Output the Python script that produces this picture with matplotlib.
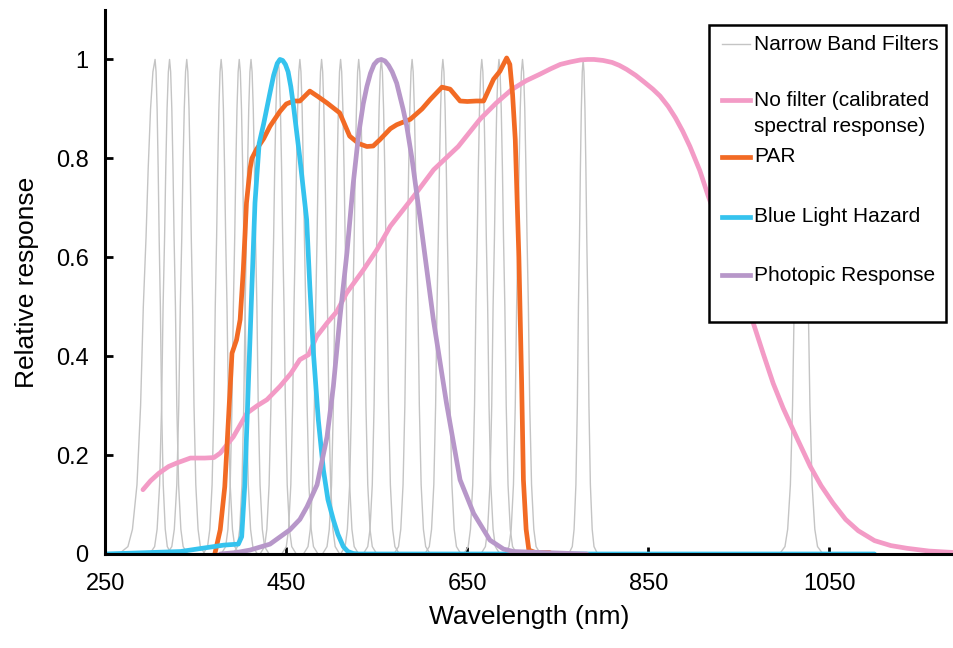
import matplotlib
matplotlib.use('Agg')
import matplotlib.pyplot as plt
from matplotlib.patches import Rectangle
from matplotlib.lines import Line2D

plt.rcParams['font.family'] = ['Liberation Sans', 'DejaVu Sans']

# narrow band filters: centre wavelength and left/right width factor
filter_centres = [305, 321, 340, 378, 398, 411, 441, 465, 489, 510, 530, 555,
                  589, 623, 666, 685, 711, 778, 1019]
filter_left = [2.0, 1.1, 1.1, 1, 1, 1, 1, 1, 1, 1, 1, 1, 1, 1, 1, 1, 1, 0.8, 1.2]
filter_right = [0.9, 1.0, 1.0, 1, 1, 1, 1, 1, 1, 1, 1, 1, 1, 1, 1, 1, 1, 0.8, 1.2]
# shape of one filter (offset from centre in nm, relative response)
profile_offset = [-20, -15, -12.5, -10, -8, -6.5, -5, -3.8, -2.5, -1.2, 0,
                  1.2, 2.5, 3.8, 5, 6.5, 8, 10, 12.5, 15, 20]
profile_value = [0, 0.015, 0.05, 0.14, 0.3, 0.5, 0.64, 0.78, 0.9, 0.975, 1,
                 0.975, 0.9, 0.78, 0.64, 0.5, 0.3, 0.14, 0.05, 0.015, 0]
filter_base_nm = [250, 1150]

nofilter_nm = [291.6, 300, 309, 320, 329, 344, 360, 370, 377, 391.5, 406.6, 418, 428.6, 443,
               455, 465, 474.6, 483.6, 495, 505.7, 516.7, 535.4, 550, 565, 590.7, 612.8, 640,
               664, 682, 699, 715, 730, 742, 752.8, 764, 775, 783, 790, 800, 810, 818, 826,
               836, 845, 855, 863, 872, 880, 888, 896, 907, 916, 928, 940, 953, 966, 977, 988,
               999, 1010, 1020, 1029, 1041, 1054, 1068, 1082, 1100, 1118, 1136, 1160, 1188]
nofilter_val = [0.13, 0.148, 0.163, 0.177, 0.184, 0.194, 0.194, 0.195, 0.204, 0.237, 0.285,
                0.3, 0.312, 0.339, 0.365, 0.393, 0.403, 0.44, 0.467, 0.49, 0.528, 0.575, 0.615,
                0.663, 0.723, 0.777, 0.824, 0.879, 0.912, 0.939, 0.957, 0.97, 0.981, 0.99, 0.995,
                0.999, 1.0, 1.0, 0.998, 0.994, 0.988, 0.98, 0.968, 0.955, 0.94, 0.926, 0.905,
                0.882, 0.855, 0.824, 0.775, 0.725, 0.665, 0.6, 0.532, 0.467, 0.405, 0.345,
                0.295, 0.251, 0.212, 0.177, 0.138, 0.103, 0.07, 0.047, 0.027, 0.017, 0.0115,
                0.006, 0.003]

par_nm = [371, 377, 382, 386, 390, 395, 399, 402.5, 406, 410, 412, 417, 425, 432, 443, 450,
          458, 465, 470, 476, 485, 495, 509, 520, 530, 539, 546, 553.5, 565, 572, 587, 600,
          609, 622, 631, 642, 650, 660, 668, 679, 686, 693.5, 697, 700, 703, 707, 710, 712,
          715, 718, 725, 741]
par_val = [0.0, 0.049, 0.136, 0.27, 0.406, 0.433, 0.474, 0.575, 0.71, 0.78, 0.8, 0.818, 0.84,
           0.865, 0.895, 0.91, 0.916, 0.916, 0.925, 0.936, 0.925, 0.912, 0.892, 0.845, 0.83,
           0.824, 0.825, 0.838, 0.86, 0.868, 0.879, 0.9, 0.919, 0.944, 0.94, 0.916, 0.915,
           0.916, 0.916, 0.96, 0.976, 1.003, 0.99, 0.93, 0.838, 0.6, 0.35, 0.15, 0.05, 0.008,
           0.003, 0.003]

blue_nm = [250, 333, 355, 381, 397, 400.7, 404, 408, 412, 415.4, 420, 425, 432, 436, 440, 443,
           446, 449, 452, 455, 458, 465, 472.5, 476, 480, 485.4, 491, 496, 502, 507, 513, 518,
           524, 530, 1100]
blue_val = [0, 0.005, 0.011, 0.018, 0.02, 0.035, 0.136, 0.339, 0.541, 0.71, 0.83, 0.87, 0.933,
            0.968, 0.992, 1.0, 0.998, 0.99, 0.975, 0.945, 0.905, 0.8, 0.676, 0.541, 0.406,
            0.271, 0.17, 0.11, 0.069, 0.04, 0.015, 0.005, 0.001, 0, 0]

photopic_nm = [377, 395, 410, 432, 454, 465, 473, 484, 495, 502, 509, 517, 524, 530, 535, 539,
               543, 547, 551, 555, 559, 563, 567, 572, 579, 583, 589, 598, 612.5, 627, 642,
               657, 675, 690, 701, 782]
photopic_val = [0, 0.003, 0.008, 0.02, 0.049, 0.07, 0.096, 0.14, 0.237, 0.339, 0.474, 0.609,
                0.75, 0.85, 0.91, 0.945, 0.972, 0.99, 0.998, 1.0, 0.997, 0.988, 0.975, 0.952,
                0.9, 0.866, 0.798, 0.676, 0.474, 0.305, 0.15, 0.082, 0.028, 0.01, 0.005, 0]

x_ticks = [250, 450, 650, 850, 1050]
y_ticks = [0, 0.2, 0.4, 0.6, 0.8, 1.0]
y_tick_labels = ['0', '0.2', '0.4', '0.6', '0.8', '1']

labels = ['Narrow Band Filters', 'No filter (calibrated', 'spectral response)', 'PAR',
          'Blue Light Hazard', 'Photopic Response']
colours = {'gray': '#c4c4c4', 'pink': '#f39bc6', 'orange': '#f26a24',
           'blue': '#35c3ee', 'purple': '#b797c9'}

W, H = 954, 648
fig = plt.figure(figsize=(W / 100, H / 100), dpi=100)
ax = fig.add_axes([105.3 / W, 1 - 554 / H, (W - 105.3) / W, (554 - 10) / H])

# narrow band filters
ax.plot(filter_base_nm, [0, 0], color=colours['gray'], lw=1.0)
for c, l, r in zip(filter_centres, filter_left, filter_right):
    xs = [c + o * (l if o < 0 else r) for o in profile_offset]
    ax.plot(xs, profile_value, color=colours['gray'], lw=1.0)

ax.plot(nofilter_nm, nofilter_val, color=colours['pink'], lw=3.4, solid_capstyle='round')
ax.plot(par_nm, par_val, color=colours['orange'], lw=3.4, solid_capstyle='round')
ax.plot(blue_nm, blue_val, color=colours['blue'], lw=3.4, solid_capstyle='round')
ax.plot(photopic_nm, photopic_val, color=colours['purple'], lw=3.4, solid_capstyle='round')

ax.set_xlim(250, 250 + (W - 105.3) / 0.905)
ax.set_ylim(0, 1.1)
ax.set_xticks(x_ticks)
ax.set_yticks(y_ticks)
ax.set_yticklabels(y_tick_labels)
ax.tick_params(axis='both', direction='in', width=2, labelsize=17, colors='black')
ax.tick_params(axis='y', length=6, pad=12)
ax.tick_params(axis='x', length=5, pad=14)
for s in ['top', 'right']:
    ax.spines[s].set_visible(False)
for s in ['left', 'bottom']:
    ax.spines[s].set_linewidth(2.2)
ax.set_xlabel('Wavelength (nm)', fontsize=19, labelpad=7)
ax.set_ylabel('Relative response', fontsize=19, labelpad=12)


# legend drawn by hand so the rows sit like the original
def fx(x):
    return x / W


def fy(y):
    return 1 - y / H


box = Rectangle((fx(709.5), fy(321.7)), fx(946) - fx(709.5), (321.7 - 24.5) / H,
                transform=fig.transFigure, facecolor='white', edgecolor='black',
                lw=1.8, zorder=10, clip_on=False)
ax.add_patch(box)
rows = [(44, 'gray', 1.0, labels[0]), (100, 'pink', 3.4, labels[1]), (157, 'orange', 3.4, labels[3]),
        (216.5, 'blue', 3.4, labels[4]), (275.5, 'purple', 3.4, labels[5])]
for y, col, lw, text in rows:
    ax.add_line(Line2D([fx(722), fx(750)], [fy(y), fy(y)], transform=fig.transFigure,
                       color=colours[col], lw=lw, zorder=11, clip_on=False))
    ax.text(fx(754), fy(y), text, transform=fig.transFigure, fontsize=15,
            va='center', ha='left', zorder=12)
ax.text(fx(754), fy(126), labels[2], transform=fig.transFigure, fontsize=15,
        va='center', ha='left', zorder=12)

fig.savefig('out.png', dpi=100)
